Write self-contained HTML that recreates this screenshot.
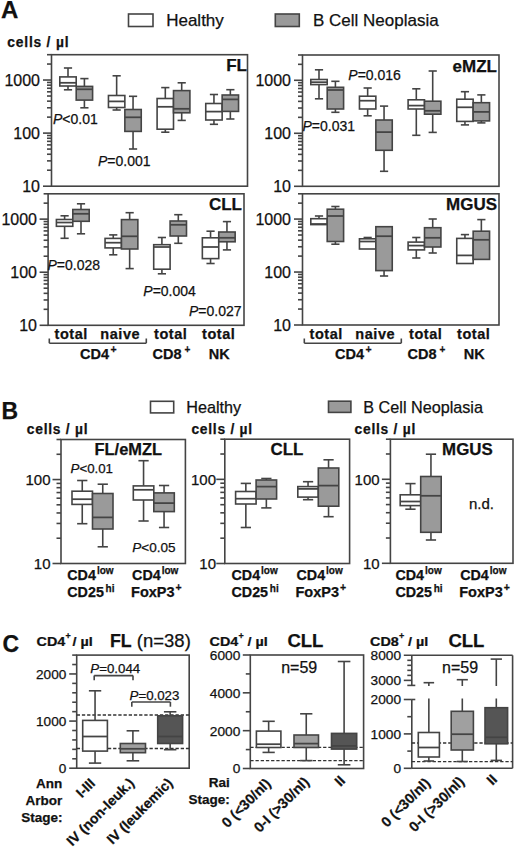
<!DOCTYPE html>
<html><head><meta charset="utf-8"><style>
html,body{margin:0;padding:0;background:#fff;}
svg{display:block;}
text{font-family:"Liberation Sans",sans-serif;fill:#111;stroke:#111;stroke-width:0.25px;}
</style></head><body>
<svg width="520" height="849" viewBox="0 0 520 849">
<rect x="0" y="0" width="520" height="849" fill="#fff"/>
<text x="1.00" y="18.30" font-size="24" font-weight="bold" text-anchor="start">A</text>
<rect x="128.50" y="14.00" width="24.50" height="12.50" fill="#fff" stroke="#444444" stroke-width="1.6"/>
<text x="166.20" y="26.40" font-size="17" font-weight="normal" text-anchor="start">Healthy</text>
<rect x="275.30" y="14.00" width="24.00" height="12.50" fill="#9a9a9a" stroke="#444444" stroke-width="1.6"/>
<text x="313.00" y="26.40" font-size="17" font-weight="normal" text-anchor="start">B Cell Neoplasia</text>
<text x="7.30" y="47.30" font-size="13.8" font-weight="bold" text-anchor="start" letter-spacing="0.8">cells / µl</text>
<rect x="51.50" y="54.70" width="196.00" height="131.50" fill="none" stroke="#444444" stroke-width="1.6"/>
<line x1="43.00" y1="186.20" x2="51.50" y2="186.20" stroke="#444444" stroke-width="1.6"/>
<line x1="47.00" y1="170.22" x2="51.50" y2="170.22" stroke="#444444" stroke-width="1.6"/>
<line x1="47.00" y1="160.87" x2="51.50" y2="160.87" stroke="#444444" stroke-width="1.6"/>
<line x1="47.00" y1="154.24" x2="51.50" y2="154.24" stroke="#444444" stroke-width="1.6"/>
<line x1="47.00" y1="149.09" x2="51.50" y2="149.09" stroke="#444444" stroke-width="1.6"/>
<line x1="47.00" y1="144.89" x2="51.50" y2="144.89" stroke="#444444" stroke-width="1.6"/>
<line x1="47.00" y1="141.34" x2="51.50" y2="141.34" stroke="#444444" stroke-width="1.6"/>
<line x1="47.00" y1="138.26" x2="51.50" y2="138.26" stroke="#444444" stroke-width="1.6"/>
<line x1="47.00" y1="135.54" x2="51.50" y2="135.54" stroke="#444444" stroke-width="1.6"/>
<line x1="43.00" y1="133.11" x2="51.50" y2="133.11" stroke="#444444" stroke-width="1.6"/>
<line x1="47.00" y1="117.13" x2="51.50" y2="117.13" stroke="#444444" stroke-width="1.6"/>
<line x1="47.00" y1="107.79" x2="51.50" y2="107.79" stroke="#444444" stroke-width="1.6"/>
<line x1="47.00" y1="101.15" x2="51.50" y2="101.15" stroke="#444444" stroke-width="1.6"/>
<line x1="47.00" y1="96.01" x2="51.50" y2="96.01" stroke="#444444" stroke-width="1.6"/>
<line x1="47.00" y1="91.81" x2="51.50" y2="91.81" stroke="#444444" stroke-width="1.6"/>
<line x1="47.00" y1="88.25" x2="51.50" y2="88.25" stroke="#444444" stroke-width="1.6"/>
<line x1="47.00" y1="85.17" x2="51.50" y2="85.17" stroke="#444444" stroke-width="1.6"/>
<line x1="47.00" y1="82.46" x2="51.50" y2="82.46" stroke="#444444" stroke-width="1.6"/>
<line x1="43.00" y1="80.03" x2="51.50" y2="80.03" stroke="#444444" stroke-width="1.6"/>
<line x1="47.00" y1="64.05" x2="51.50" y2="64.05" stroke="#444444" stroke-width="1.6"/>
<line x1="47.00" y1="54.70" x2="51.50" y2="54.70" stroke="#444444" stroke-width="1.6"/>
<text x="40.00" y="85.79" font-size="16" font-weight="normal" text-anchor="end">1000</text>
<text x="40.00" y="138.87" font-size="16" font-weight="normal" text-anchor="end">100</text>
<text x="40.00" y="191.96" font-size="16" font-weight="normal" text-anchor="end">10</text>
<line x1="68.00" y1="68.00" x2="68.00" y2="76.90" stroke="#444444" stroke-width="1.6"/>
<line x1="63.90" y1="68.00" x2="72.10" y2="68.00" stroke="#444444" stroke-width="1.6"/>
<line x1="68.00" y1="86.00" x2="68.00" y2="89.80" stroke="#444444" stroke-width="1.6"/>
<line x1="63.90" y1="89.80" x2="72.10" y2="89.80" stroke="#444444" stroke-width="1.6"/>
<rect x="59.80" y="76.90" width="16.40" height="9.10" fill="#fff" stroke="#444444" stroke-width="1.6"/>
<line x1="59.80" y1="82.80" x2="76.20" y2="82.80" stroke="#444444" stroke-width="1.7600000000000002"/>
<line x1="84.40" y1="78.60" x2="84.40" y2="86.40" stroke="#444444" stroke-width="1.6"/>
<line x1="80.30" y1="78.60" x2="88.50" y2="78.60" stroke="#444444" stroke-width="1.6"/>
<line x1="84.40" y1="100.10" x2="84.40" y2="107.80" stroke="#444444" stroke-width="1.6"/>
<line x1="80.30" y1="107.80" x2="88.50" y2="107.80" stroke="#444444" stroke-width="1.6"/>
<rect x="76.20" y="86.40" width="16.40" height="13.70" fill="#9a9a9a" stroke="#444444" stroke-width="1.6"/>
<line x1="76.20" y1="89.30" x2="92.60" y2="89.30" stroke="#444444" stroke-width="1.7600000000000002"/>
<line x1="116.65" y1="75.80" x2="116.65" y2="95.50" stroke="#444444" stroke-width="1.6"/>
<line x1="112.55" y1="75.80" x2="120.75" y2="75.80" stroke="#444444" stroke-width="1.6"/>
<line x1="116.65" y1="107.50" x2="116.65" y2="110.00" stroke="#444444" stroke-width="1.6"/>
<line x1="112.55" y1="110.00" x2="120.75" y2="110.00" stroke="#444444" stroke-width="1.6"/>
<rect x="108.45" y="95.50" width="16.40" height="12.00" fill="#fff" stroke="#444444" stroke-width="1.6"/>
<line x1="108.45" y1="101.40" x2="124.85" y2="101.40" stroke="#444444" stroke-width="1.7600000000000002"/>
<line x1="133.05" y1="96.30" x2="133.05" y2="109.50" stroke="#444444" stroke-width="1.6"/>
<line x1="128.95" y1="96.30" x2="137.15" y2="96.30" stroke="#444444" stroke-width="1.6"/>
<line x1="133.05" y1="131.40" x2="133.05" y2="149.00" stroke="#444444" stroke-width="1.6"/>
<line x1="128.95" y1="149.00" x2="137.15" y2="149.00" stroke="#444444" stroke-width="1.6"/>
<rect x="124.85" y="109.50" width="16.40" height="21.90" fill="#9a9a9a" stroke="#444444" stroke-width="1.6"/>
<line x1="124.85" y1="117.30" x2="141.25" y2="117.30" stroke="#444444" stroke-width="1.7600000000000002"/>
<line x1="165.30" y1="87.60" x2="165.30" y2="98.50" stroke="#444444" stroke-width="1.6"/>
<line x1="161.20" y1="87.60" x2="169.40" y2="87.60" stroke="#444444" stroke-width="1.6"/>
<line x1="165.30" y1="129.20" x2="165.30" y2="132.20" stroke="#444444" stroke-width="1.6"/>
<line x1="161.20" y1="132.20" x2="169.40" y2="132.20" stroke="#444444" stroke-width="1.6"/>
<rect x="157.10" y="98.50" width="16.40" height="30.70" fill="#fff" stroke="#444444" stroke-width="1.6"/>
<line x1="157.10" y1="106.80" x2="173.50" y2="106.80" stroke="#444444" stroke-width="1.7600000000000002"/>
<line x1="181.70" y1="82.80" x2="181.70" y2="90.60" stroke="#444444" stroke-width="1.6"/>
<line x1="177.60" y1="82.80" x2="185.80" y2="82.80" stroke="#444444" stroke-width="1.6"/>
<line x1="181.70" y1="112.80" x2="181.70" y2="120.40" stroke="#444444" stroke-width="1.6"/>
<line x1="177.60" y1="120.40" x2="185.80" y2="120.40" stroke="#444444" stroke-width="1.6"/>
<rect x="173.50" y="90.60" width="16.40" height="22.20" fill="#9a9a9a" stroke="#444444" stroke-width="1.6"/>
<line x1="173.50" y1="108.80" x2="189.90" y2="108.80" stroke="#444444" stroke-width="1.7600000000000002"/>
<line x1="213.95" y1="94.50" x2="213.95" y2="103.50" stroke="#444444" stroke-width="1.6"/>
<line x1="209.85" y1="94.50" x2="218.05" y2="94.50" stroke="#444444" stroke-width="1.6"/>
<line x1="213.95" y1="120.00" x2="213.95" y2="124.30" stroke="#444444" stroke-width="1.6"/>
<line x1="209.85" y1="124.30" x2="218.05" y2="124.30" stroke="#444444" stroke-width="1.6"/>
<rect x="205.75" y="103.50" width="16.40" height="16.50" fill="#fff" stroke="#444444" stroke-width="1.6"/>
<line x1="205.75" y1="111.60" x2="222.15" y2="111.60" stroke="#444444" stroke-width="1.7600000000000002"/>
<line x1="230.35" y1="89.70" x2="230.35" y2="95.00" stroke="#444444" stroke-width="1.6"/>
<line x1="226.25" y1="89.70" x2="234.45" y2="89.70" stroke="#444444" stroke-width="1.6"/>
<line x1="230.35" y1="111.40" x2="230.35" y2="119.00" stroke="#444444" stroke-width="1.6"/>
<line x1="226.25" y1="119.00" x2="234.45" y2="119.00" stroke="#444444" stroke-width="1.6"/>
<rect x="222.15" y="95.00" width="16.40" height="16.40" fill="#9a9a9a" stroke="#444444" stroke-width="1.6"/>
<line x1="222.15" y1="99.40" x2="238.55" y2="99.40" stroke="#444444" stroke-width="1.7600000000000002"/>
<text x="247.00" y="70.80" font-size="17" font-weight="bold" text-anchor="end">FL</text>
<text x="53.00" y="123.60" font-size="14" font-weight="normal" text-anchor="start"><tspan font-style="italic">P</tspan>&lt;0.01</text>
<text x="98.00" y="166.00" font-size="14" font-weight="normal" text-anchor="start"><tspan font-style="italic">P</tspan>=0.001</text>
<rect x="48.10" y="193.80" width="195.90" height="131.50" fill="none" stroke="#444444" stroke-width="1.6"/>
<line x1="39.60" y1="325.30" x2="48.10" y2="325.30" stroke="#444444" stroke-width="1.6"/>
<line x1="43.60" y1="309.32" x2="48.10" y2="309.32" stroke="#444444" stroke-width="1.6"/>
<line x1="43.60" y1="299.97" x2="48.10" y2="299.97" stroke="#444444" stroke-width="1.6"/>
<line x1="43.60" y1="293.34" x2="48.10" y2="293.34" stroke="#444444" stroke-width="1.6"/>
<line x1="43.60" y1="288.19" x2="48.10" y2="288.19" stroke="#444444" stroke-width="1.6"/>
<line x1="43.60" y1="283.99" x2="48.10" y2="283.99" stroke="#444444" stroke-width="1.6"/>
<line x1="43.60" y1="280.44" x2="48.10" y2="280.44" stroke="#444444" stroke-width="1.6"/>
<line x1="43.60" y1="277.36" x2="48.10" y2="277.36" stroke="#444444" stroke-width="1.6"/>
<line x1="43.60" y1="274.64" x2="48.10" y2="274.64" stroke="#444444" stroke-width="1.6"/>
<line x1="39.60" y1="272.21" x2="48.10" y2="272.21" stroke="#444444" stroke-width="1.6"/>
<line x1="43.60" y1="256.23" x2="48.10" y2="256.23" stroke="#444444" stroke-width="1.6"/>
<line x1="43.60" y1="246.89" x2="48.10" y2="246.89" stroke="#444444" stroke-width="1.6"/>
<line x1="43.60" y1="240.25" x2="48.10" y2="240.25" stroke="#444444" stroke-width="1.6"/>
<line x1="43.60" y1="235.11" x2="48.10" y2="235.11" stroke="#444444" stroke-width="1.6"/>
<line x1="43.60" y1="230.91" x2="48.10" y2="230.91" stroke="#444444" stroke-width="1.6"/>
<line x1="43.60" y1="227.35" x2="48.10" y2="227.35" stroke="#444444" stroke-width="1.6"/>
<line x1="43.60" y1="224.27" x2="48.10" y2="224.27" stroke="#444444" stroke-width="1.6"/>
<line x1="43.60" y1="221.56" x2="48.10" y2="221.56" stroke="#444444" stroke-width="1.6"/>
<line x1="39.60" y1="219.13" x2="48.10" y2="219.13" stroke="#444444" stroke-width="1.6"/>
<line x1="43.60" y1="203.15" x2="48.10" y2="203.15" stroke="#444444" stroke-width="1.6"/>
<line x1="43.60" y1="193.80" x2="48.10" y2="193.80" stroke="#444444" stroke-width="1.6"/>
<text x="37.00" y="224.89" font-size="16" font-weight="normal" text-anchor="end">1000</text>
<text x="37.00" y="277.97" font-size="16" font-weight="normal" text-anchor="end">100</text>
<text x="37.00" y="331.06" font-size="16" font-weight="normal" text-anchor="end">10</text>
<line x1="64.60" y1="215.80" x2="64.60" y2="219.50" stroke="#444444" stroke-width="1.6"/>
<line x1="60.50" y1="215.80" x2="68.70" y2="215.80" stroke="#444444" stroke-width="1.6"/>
<line x1="64.60" y1="226.30" x2="64.60" y2="238.30" stroke="#444444" stroke-width="1.6"/>
<line x1="60.50" y1="238.30" x2="68.70" y2="238.30" stroke="#444444" stroke-width="1.6"/>
<rect x="56.40" y="219.50" width="16.40" height="6.80" fill="#fff" stroke="#444444" stroke-width="1.6"/>
<line x1="56.40" y1="222.50" x2="72.80" y2="222.50" stroke="#444444" stroke-width="1.7600000000000002"/>
<line x1="81.00" y1="203.80" x2="81.00" y2="209.50" stroke="#444444" stroke-width="1.6"/>
<line x1="76.90" y1="203.80" x2="85.10" y2="203.80" stroke="#444444" stroke-width="1.6"/>
<line x1="81.00" y1="221.30" x2="81.00" y2="233.80" stroke="#444444" stroke-width="1.6"/>
<line x1="76.90" y1="233.80" x2="85.10" y2="233.80" stroke="#444444" stroke-width="1.6"/>
<rect x="72.80" y="209.50" width="16.40" height="11.80" fill="#9a9a9a" stroke="#444444" stroke-width="1.6"/>
<line x1="72.80" y1="213.80" x2="89.20" y2="213.80" stroke="#444444" stroke-width="1.7600000000000002"/>
<line x1="113.25" y1="234.90" x2="113.25" y2="238.40" stroke="#444444" stroke-width="1.6"/>
<line x1="109.15" y1="234.90" x2="117.35" y2="234.90" stroke="#444444" stroke-width="1.6"/>
<line x1="113.25" y1="247.90" x2="113.25" y2="254.80" stroke="#444444" stroke-width="1.6"/>
<line x1="109.15" y1="254.80" x2="117.35" y2="254.80" stroke="#444444" stroke-width="1.6"/>
<rect x="105.05" y="238.40" width="16.40" height="9.50" fill="#fff" stroke="#444444" stroke-width="1.6"/>
<line x1="105.05" y1="242.70" x2="121.45" y2="242.70" stroke="#444444" stroke-width="1.7600000000000002"/>
<line x1="129.65" y1="212.70" x2="129.65" y2="219.60" stroke="#444444" stroke-width="1.6"/>
<line x1="125.55" y1="212.70" x2="133.75" y2="212.70" stroke="#444444" stroke-width="1.6"/>
<line x1="129.65" y1="249.00" x2="129.65" y2="268.60" stroke="#444444" stroke-width="1.6"/>
<line x1="125.55" y1="268.60" x2="133.75" y2="268.60" stroke="#444444" stroke-width="1.6"/>
<rect x="121.45" y="219.60" width="16.40" height="29.40" fill="#9a9a9a" stroke="#444444" stroke-width="1.6"/>
<line x1="121.45" y1="236.30" x2="137.85" y2="236.30" stroke="#444444" stroke-width="1.7600000000000002"/>
<line x1="161.90" y1="237.50" x2="161.90" y2="244.70" stroke="#444444" stroke-width="1.6"/>
<line x1="157.80" y1="237.50" x2="166.00" y2="237.50" stroke="#444444" stroke-width="1.6"/>
<line x1="161.90" y1="269.20" x2="161.90" y2="273.80" stroke="#444444" stroke-width="1.6"/>
<line x1="157.80" y1="273.80" x2="166.00" y2="273.80" stroke="#444444" stroke-width="1.6"/>
<rect x="153.70" y="244.70" width="16.40" height="24.50" fill="#fff" stroke="#444444" stroke-width="1.6"/>
<line x1="153.70" y1="247.00" x2="170.10" y2="247.00" stroke="#444444" stroke-width="1.7600000000000002"/>
<line x1="178.30" y1="214.70" x2="178.30" y2="221.00" stroke="#444444" stroke-width="1.6"/>
<line x1="174.20" y1="214.70" x2="182.40" y2="214.70" stroke="#444444" stroke-width="1.6"/>
<line x1="178.30" y1="236.00" x2="178.30" y2="243.30" stroke="#444444" stroke-width="1.6"/>
<line x1="174.20" y1="243.30" x2="182.40" y2="243.30" stroke="#444444" stroke-width="1.6"/>
<rect x="170.10" y="221.00" width="16.40" height="15.00" fill="#9a9a9a" stroke="#444444" stroke-width="1.6"/>
<line x1="170.10" y1="224.80" x2="186.50" y2="224.80" stroke="#444444" stroke-width="1.7600000000000002"/>
<line x1="210.55" y1="231.20" x2="210.55" y2="237.80" stroke="#444444" stroke-width="1.6"/>
<line x1="206.45" y1="231.20" x2="214.65" y2="231.20" stroke="#444444" stroke-width="1.6"/>
<line x1="210.55" y1="258.60" x2="210.55" y2="263.50" stroke="#444444" stroke-width="1.6"/>
<line x1="206.45" y1="263.50" x2="214.65" y2="263.50" stroke="#444444" stroke-width="1.6"/>
<rect x="202.35" y="237.80" width="16.40" height="20.80" fill="#fff" stroke="#444444" stroke-width="1.6"/>
<line x1="202.35" y1="247.00" x2="218.75" y2="247.00" stroke="#444444" stroke-width="1.7600000000000002"/>
<line x1="226.95" y1="221.60" x2="226.95" y2="232.00" stroke="#444444" stroke-width="1.6"/>
<line x1="222.85" y1="221.60" x2="231.05" y2="221.60" stroke="#444444" stroke-width="1.6"/>
<line x1="226.95" y1="241.80" x2="226.95" y2="249.90" stroke="#444444" stroke-width="1.6"/>
<line x1="222.85" y1="249.90" x2="231.05" y2="249.90" stroke="#444444" stroke-width="1.6"/>
<rect x="218.75" y="232.00" width="16.40" height="9.80" fill="#9a9a9a" stroke="#444444" stroke-width="1.6"/>
<line x1="218.75" y1="237.80" x2="235.15" y2="237.80" stroke="#444444" stroke-width="1.7600000000000002"/>
<text x="242.00" y="210.40" font-size="17" font-weight="bold" text-anchor="end">CLL</text>
<text x="47.50" y="270.00" font-size="14" font-weight="normal" text-anchor="start"><tspan font-style="italic">P</tspan>=0.028</text>
<text x="143.30" y="295.70" font-size="14" font-weight="normal" text-anchor="start"><tspan font-style="italic">P</tspan>=0.004</text>
<text x="189.00" y="315.50" font-size="14" font-weight="normal" text-anchor="start"><tspan font-style="italic">P</tspan>=0.027</text>
<rect x="302.50" y="55.00" width="196.50" height="131.30" fill="none" stroke="#444444" stroke-width="1.6"/>
<line x1="294.00" y1="186.30" x2="302.50" y2="186.30" stroke="#444444" stroke-width="1.6"/>
<line x1="298.00" y1="170.34" x2="302.50" y2="170.34" stroke="#444444" stroke-width="1.6"/>
<line x1="298.00" y1="161.01" x2="302.50" y2="161.01" stroke="#444444" stroke-width="1.6"/>
<line x1="298.00" y1="154.39" x2="302.50" y2="154.39" stroke="#444444" stroke-width="1.6"/>
<line x1="298.00" y1="149.25" x2="302.50" y2="149.25" stroke="#444444" stroke-width="1.6"/>
<line x1="298.00" y1="145.05" x2="302.50" y2="145.05" stroke="#444444" stroke-width="1.6"/>
<line x1="298.00" y1="141.51" x2="302.50" y2="141.51" stroke="#444444" stroke-width="1.6"/>
<line x1="298.00" y1="138.43" x2="302.50" y2="138.43" stroke="#444444" stroke-width="1.6"/>
<line x1="298.00" y1="135.72" x2="302.50" y2="135.72" stroke="#444444" stroke-width="1.6"/>
<line x1="294.00" y1="133.29" x2="302.50" y2="133.29" stroke="#444444" stroke-width="1.6"/>
<line x1="298.00" y1="117.34" x2="302.50" y2="117.34" stroke="#444444" stroke-width="1.6"/>
<line x1="298.00" y1="108.01" x2="302.50" y2="108.01" stroke="#444444" stroke-width="1.6"/>
<line x1="298.00" y1="101.38" x2="302.50" y2="101.38" stroke="#444444" stroke-width="1.6"/>
<line x1="298.00" y1="96.25" x2="302.50" y2="96.25" stroke="#444444" stroke-width="1.6"/>
<line x1="298.00" y1="92.05" x2="302.50" y2="92.05" stroke="#444444" stroke-width="1.6"/>
<line x1="298.00" y1="88.50" x2="302.50" y2="88.50" stroke="#444444" stroke-width="1.6"/>
<line x1="298.00" y1="85.43" x2="302.50" y2="85.43" stroke="#444444" stroke-width="1.6"/>
<line x1="298.00" y1="82.72" x2="302.50" y2="82.72" stroke="#444444" stroke-width="1.6"/>
<line x1="294.00" y1="80.29" x2="302.50" y2="80.29" stroke="#444444" stroke-width="1.6"/>
<line x1="298.00" y1="64.33" x2="302.50" y2="64.33" stroke="#444444" stroke-width="1.6"/>
<line x1="298.00" y1="55.00" x2="302.50" y2="55.00" stroke="#444444" stroke-width="1.6"/>
<text x="291.00" y="86.05" font-size="16" font-weight="normal" text-anchor="end">1000</text>
<text x="291.00" y="139.05" font-size="16" font-weight="normal" text-anchor="end">100</text>
<text x="291.00" y="192.06" font-size="16" font-weight="normal" text-anchor="end">10</text>
<line x1="319.00" y1="69.80" x2="319.00" y2="79.50" stroke="#444444" stroke-width="1.6"/>
<line x1="314.90" y1="69.80" x2="323.10" y2="69.80" stroke="#444444" stroke-width="1.6"/>
<line x1="319.00" y1="84.60" x2="319.00" y2="98.80" stroke="#444444" stroke-width="1.6"/>
<line x1="314.90" y1="98.80" x2="323.10" y2="98.80" stroke="#444444" stroke-width="1.6"/>
<rect x="310.80" y="79.50" width="16.40" height="5.10" fill="#fff" stroke="#444444" stroke-width="1.6"/>
<line x1="310.80" y1="82.20" x2="327.20" y2="82.20" stroke="#444444" stroke-width="1.7600000000000002"/>
<line x1="335.40" y1="81.30" x2="335.40" y2="87.30" stroke="#444444" stroke-width="1.6"/>
<line x1="331.30" y1="81.30" x2="339.50" y2="81.30" stroke="#444444" stroke-width="1.6"/>
<line x1="335.40" y1="109.00" x2="335.40" y2="112.30" stroke="#444444" stroke-width="1.6"/>
<line x1="331.30" y1="112.30" x2="339.50" y2="112.30" stroke="#444444" stroke-width="1.6"/>
<rect x="327.20" y="87.30" width="16.40" height="21.70" fill="#9a9a9a" stroke="#444444" stroke-width="1.6"/>
<line x1="327.20" y1="90.00" x2="343.60" y2="90.00" stroke="#444444" stroke-width="1.7600000000000002"/>
<line x1="367.65" y1="88.00" x2="367.65" y2="96.20" stroke="#444444" stroke-width="1.6"/>
<line x1="363.55" y1="88.00" x2="371.75" y2="88.00" stroke="#444444" stroke-width="1.6"/>
<line x1="367.65" y1="109.00" x2="367.65" y2="115.80" stroke="#444444" stroke-width="1.6"/>
<line x1="363.55" y1="115.80" x2="371.75" y2="115.80" stroke="#444444" stroke-width="1.6"/>
<rect x="359.45" y="96.20" width="16.40" height="12.80" fill="#fff" stroke="#444444" stroke-width="1.6"/>
<line x1="359.45" y1="100.70" x2="375.85" y2="100.70" stroke="#444444" stroke-width="1.7600000000000002"/>
<line x1="384.05" y1="106.10" x2="384.05" y2="120.00" stroke="#444444" stroke-width="1.6"/>
<line x1="379.95" y1="106.10" x2="388.15" y2="106.10" stroke="#444444" stroke-width="1.6"/>
<line x1="384.05" y1="150.30" x2="384.05" y2="171.30" stroke="#444444" stroke-width="1.6"/>
<line x1="379.95" y1="171.30" x2="388.15" y2="171.30" stroke="#444444" stroke-width="1.6"/>
<rect x="375.85" y="120.00" width="16.40" height="30.30" fill="#9a9a9a" stroke="#444444" stroke-width="1.6"/>
<line x1="375.85" y1="132.10" x2="392.25" y2="132.10" stroke="#444444" stroke-width="1.7600000000000002"/>
<line x1="416.30" y1="88.80" x2="416.30" y2="99.80" stroke="#444444" stroke-width="1.6"/>
<line x1="412.20" y1="88.80" x2="420.40" y2="88.80" stroke="#444444" stroke-width="1.6"/>
<line x1="416.30" y1="109.00" x2="416.30" y2="135.30" stroke="#444444" stroke-width="1.6"/>
<line x1="412.20" y1="135.30" x2="420.40" y2="135.30" stroke="#444444" stroke-width="1.6"/>
<rect x="408.10" y="99.80" width="16.40" height="9.20" fill="#fff" stroke="#444444" stroke-width="1.6"/>
<line x1="408.10" y1="105.60" x2="424.50" y2="105.60" stroke="#444444" stroke-width="1.7600000000000002"/>
<line x1="432.70" y1="71.00" x2="432.70" y2="101.20" stroke="#444444" stroke-width="1.6"/>
<line x1="428.60" y1="71.00" x2="436.80" y2="71.00" stroke="#444444" stroke-width="1.6"/>
<line x1="432.70" y1="114.20" x2="432.70" y2="132.40" stroke="#444444" stroke-width="1.6"/>
<line x1="428.60" y1="132.40" x2="436.80" y2="132.40" stroke="#444444" stroke-width="1.6"/>
<rect x="424.50" y="101.20" width="16.40" height="13.00" fill="#9a9a9a" stroke="#444444" stroke-width="1.6"/>
<line x1="424.50" y1="110.80" x2="440.90" y2="110.80" stroke="#444444" stroke-width="1.7600000000000002"/>
<line x1="464.95" y1="91.70" x2="464.95" y2="99.20" stroke="#444444" stroke-width="1.6"/>
<line x1="460.85" y1="91.70" x2="469.05" y2="91.70" stroke="#444444" stroke-width="1.6"/>
<line x1="464.95" y1="121.40" x2="464.95" y2="124.90" stroke="#444444" stroke-width="1.6"/>
<line x1="460.85" y1="124.90" x2="469.05" y2="124.90" stroke="#444444" stroke-width="1.6"/>
<rect x="456.75" y="99.20" width="16.40" height="22.20" fill="#fff" stroke="#444444" stroke-width="1.6"/>
<line x1="456.75" y1="107.30" x2="473.15" y2="107.30" stroke="#444444" stroke-width="1.7600000000000002"/>
<line x1="481.35" y1="94.90" x2="481.35" y2="102.70" stroke="#444444" stroke-width="1.6"/>
<line x1="477.25" y1="94.90" x2="485.45" y2="94.90" stroke="#444444" stroke-width="1.6"/>
<line x1="481.35" y1="120.90" x2="481.35" y2="122.90" stroke="#444444" stroke-width="1.6"/>
<line x1="477.25" y1="122.90" x2="485.45" y2="122.90" stroke="#444444" stroke-width="1.6"/>
<rect x="473.15" y="102.70" width="16.40" height="18.20" fill="#9a9a9a" stroke="#444444" stroke-width="1.6"/>
<line x1="473.15" y1="111.90" x2="489.55" y2="111.90" stroke="#444444" stroke-width="1.7600000000000002"/>
<text x="497.00" y="71.50" font-size="17" font-weight="bold" text-anchor="end">eMZL</text>
<text x="302.50" y="131.20" font-size="14" font-weight="normal" text-anchor="start"><tspan font-style="italic">P</tspan>=0.031</text>
<text x="348.30" y="80.20" font-size="14" font-weight="normal" text-anchor="start"><tspan font-style="italic">P</tspan>=0.016</text>
<rect x="302.50" y="193.80" width="196.50" height="131.20" fill="none" stroke="#444444" stroke-width="1.6"/>
<line x1="294.00" y1="325.00" x2="302.50" y2="325.00" stroke="#444444" stroke-width="1.6"/>
<line x1="298.00" y1="309.06" x2="302.50" y2="309.06" stroke="#444444" stroke-width="1.6"/>
<line x1="298.00" y1="299.73" x2="302.50" y2="299.73" stroke="#444444" stroke-width="1.6"/>
<line x1="298.00" y1="293.11" x2="302.50" y2="293.11" stroke="#444444" stroke-width="1.6"/>
<line x1="298.00" y1="287.98" x2="302.50" y2="287.98" stroke="#444444" stroke-width="1.6"/>
<line x1="298.00" y1="283.79" x2="302.50" y2="283.79" stroke="#444444" stroke-width="1.6"/>
<line x1="298.00" y1="280.24" x2="302.50" y2="280.24" stroke="#444444" stroke-width="1.6"/>
<line x1="298.00" y1="277.17" x2="302.50" y2="277.17" stroke="#444444" stroke-width="1.6"/>
<line x1="298.00" y1="274.46" x2="302.50" y2="274.46" stroke="#444444" stroke-width="1.6"/>
<line x1="294.00" y1="272.04" x2="302.50" y2="272.04" stroke="#444444" stroke-width="1.6"/>
<line x1="298.00" y1="256.09" x2="302.50" y2="256.09" stroke="#444444" stroke-width="1.6"/>
<line x1="298.00" y1="246.76" x2="302.50" y2="246.76" stroke="#444444" stroke-width="1.6"/>
<line x1="298.00" y1="240.15" x2="302.50" y2="240.15" stroke="#444444" stroke-width="1.6"/>
<line x1="298.00" y1="235.01" x2="302.50" y2="235.01" stroke="#444444" stroke-width="1.6"/>
<line x1="298.00" y1="230.82" x2="302.50" y2="230.82" stroke="#444444" stroke-width="1.6"/>
<line x1="298.00" y1="227.27" x2="302.50" y2="227.27" stroke="#444444" stroke-width="1.6"/>
<line x1="298.00" y1="224.20" x2="302.50" y2="224.20" stroke="#444444" stroke-width="1.6"/>
<line x1="298.00" y1="221.49" x2="302.50" y2="221.49" stroke="#444444" stroke-width="1.6"/>
<line x1="294.00" y1="219.07" x2="302.50" y2="219.07" stroke="#444444" stroke-width="1.6"/>
<line x1="298.00" y1="203.13" x2="302.50" y2="203.13" stroke="#444444" stroke-width="1.6"/>
<line x1="298.00" y1="193.80" x2="302.50" y2="193.80" stroke="#444444" stroke-width="1.6"/>
<text x="291.00" y="224.83" font-size="16" font-weight="normal" text-anchor="end">1000</text>
<text x="291.00" y="277.80" font-size="16" font-weight="normal" text-anchor="end">100</text>
<text x="291.00" y="330.76" font-size="16" font-weight="normal" text-anchor="end">10</text>
<line x1="319.00" y1="216.00" x2="319.00" y2="218.70" stroke="#444444" stroke-width="1.6"/>
<line x1="314.90" y1="216.00" x2="323.10" y2="216.00" stroke="#444444" stroke-width="1.6"/>
<rect x="310.80" y="218.70" width="16.40" height="5.90" fill="#fff" stroke="#444444" stroke-width="1.6"/>
<line x1="310.80" y1="224.00" x2="327.20" y2="224.00" stroke="#444444" stroke-width="1.7600000000000002"/>
<line x1="335.40" y1="206.50" x2="335.40" y2="209.20" stroke="#444444" stroke-width="1.6"/>
<line x1="331.30" y1="206.50" x2="339.50" y2="206.50" stroke="#444444" stroke-width="1.6"/>
<line x1="335.40" y1="241.50" x2="335.40" y2="244.20" stroke="#444444" stroke-width="1.6"/>
<line x1="331.30" y1="244.20" x2="339.50" y2="244.20" stroke="#444444" stroke-width="1.6"/>
<rect x="327.20" y="209.20" width="16.40" height="32.30" fill="#9a9a9a" stroke="#444444" stroke-width="1.6"/>
<line x1="327.20" y1="216.00" x2="343.60" y2="216.00" stroke="#444444" stroke-width="1.7600000000000002"/>
<line x1="367.65" y1="237.50" x2="367.65" y2="238.80" stroke="#444444" stroke-width="1.6"/>
<line x1="363.55" y1="237.50" x2="371.75" y2="237.50" stroke="#444444" stroke-width="1.6"/>
<rect x="359.45" y="238.80" width="16.40" height="10.20" fill="#fff" stroke="#444444" stroke-width="1.6"/>
<line x1="359.45" y1="241.50" x2="375.85" y2="241.50" stroke="#444444" stroke-width="1.7600000000000002"/>
<line x1="384.05" y1="270.60" x2="384.05" y2="276.00" stroke="#444444" stroke-width="1.6"/>
<line x1="379.95" y1="276.00" x2="388.15" y2="276.00" stroke="#444444" stroke-width="1.6"/>
<rect x="375.85" y="226.70" width="16.40" height="43.90" fill="#9a9a9a" stroke="#444444" stroke-width="1.6"/>
<line x1="375.85" y1="236.20" x2="392.25" y2="236.20" stroke="#444444" stroke-width="1.7600000000000002"/>
<line x1="416.30" y1="237.50" x2="416.30" y2="242.10" stroke="#444444" stroke-width="1.6"/>
<line x1="412.20" y1="237.50" x2="420.40" y2="237.50" stroke="#444444" stroke-width="1.6"/>
<line x1="416.30" y1="249.90" x2="416.30" y2="258.00" stroke="#444444" stroke-width="1.6"/>
<line x1="412.20" y1="258.00" x2="420.40" y2="258.00" stroke="#444444" stroke-width="1.6"/>
<rect x="408.10" y="242.10" width="16.40" height="7.80" fill="#fff" stroke="#444444" stroke-width="1.6"/>
<line x1="408.10" y1="245.60" x2="424.50" y2="245.60" stroke="#444444" stroke-width="1.7600000000000002"/>
<line x1="432.70" y1="219.00" x2="432.70" y2="227.70" stroke="#444444" stroke-width="1.6"/>
<line x1="428.60" y1="219.00" x2="436.80" y2="219.00" stroke="#444444" stroke-width="1.6"/>
<line x1="432.70" y1="247.00" x2="432.70" y2="253.00" stroke="#444444" stroke-width="1.6"/>
<line x1="428.60" y1="253.00" x2="436.80" y2="253.00" stroke="#444444" stroke-width="1.6"/>
<rect x="424.50" y="227.70" width="16.40" height="19.30" fill="#9a9a9a" stroke="#444444" stroke-width="1.6"/>
<line x1="424.50" y1="237.80" x2="440.90" y2="237.80" stroke="#444444" stroke-width="1.7600000000000002"/>
<line x1="464.95" y1="234.60" x2="464.95" y2="238.40" stroke="#444444" stroke-width="1.6"/>
<line x1="460.85" y1="234.60" x2="469.05" y2="234.60" stroke="#444444" stroke-width="1.6"/>
<rect x="456.75" y="238.40" width="16.40" height="25.10" fill="#fff" stroke="#444444" stroke-width="1.6"/>
<line x1="456.75" y1="255.40" x2="473.15" y2="255.40" stroke="#444444" stroke-width="1.7600000000000002"/>
<line x1="481.35" y1="219.60" x2="481.35" y2="231.20" stroke="#444444" stroke-width="1.6"/>
<line x1="477.25" y1="219.60" x2="485.45" y2="219.60" stroke="#444444" stroke-width="1.6"/>
<rect x="473.15" y="231.20" width="16.40" height="28.20" fill="#9a9a9a" stroke="#444444" stroke-width="1.6"/>
<line x1="473.15" y1="239.80" x2="489.55" y2="239.80" stroke="#444444" stroke-width="1.7600000000000002"/>
<text x="497.00" y="210.40" font-size="17" font-weight="bold" text-anchor="end">MGUS</text>
<text x="54.50" y="339.20" font-size="14.5" font-weight="bold" text-anchor="start" letter-spacing="0.55">total</text>
<text x="100.30" y="339.20" font-size="14.5" font-weight="bold" text-anchor="start" letter-spacing="0.55">naive</text>
<text x="154.00" y="339.20" font-size="14.5" font-weight="bold" text-anchor="start" letter-spacing="0.55">total</text>
<text x="202.00" y="339.20" font-size="14.5" font-weight="bold" text-anchor="start" letter-spacing="0.55">total</text>
<text x="80.00" y="358.80" font-size="14.5" font-weight="bold" text-anchor="start">CD4</text>
<text x="110.50" y="352.50" font-size="10.5" font-weight="bold" text-anchor="start">+</text>
<text x="152.50" y="358.80" font-size="14.5" font-weight="bold" text-anchor="start">CD8</text>
<text x="184.50" y="352.50" font-size="10" font-weight="bold" text-anchor="start">+</text>
<text x="208.80" y="358.80" font-size="14.5" font-weight="bold" text-anchor="start">NK</text>
<line x1="49.30" y1="338.50" x2="49.30" y2="343.20" stroke="#444444" stroke-width="1.6"/>
<line x1="49.30" y1="343.20" x2="146.30" y2="343.20" stroke="#444444" stroke-width="1.6"/>
<line x1="146.30" y1="338.50" x2="146.30" y2="343.20" stroke="#444444" stroke-width="1.6"/>
<text x="309.50" y="339.20" font-size="14.5" font-weight="bold" text-anchor="start" letter-spacing="0.55">total</text>
<text x="355.30" y="339.20" font-size="14.5" font-weight="bold" text-anchor="start" letter-spacing="0.55">naive</text>
<text x="409.00" y="339.20" font-size="14.5" font-weight="bold" text-anchor="start" letter-spacing="0.55">total</text>
<text x="457.00" y="339.20" font-size="14.5" font-weight="bold" text-anchor="start" letter-spacing="0.55">total</text>
<text x="335.00" y="358.80" font-size="14.5" font-weight="bold" text-anchor="start">CD4</text>
<text x="365.50" y="352.50" font-size="10.5" font-weight="bold" text-anchor="start">+</text>
<text x="407.50" y="358.80" font-size="14.5" font-weight="bold" text-anchor="start">CD8</text>
<text x="439.50" y="352.50" font-size="10" font-weight="bold" text-anchor="start">+</text>
<text x="463.80" y="358.80" font-size="14.5" font-weight="bold" text-anchor="start">NK</text>
<line x1="304.30" y1="338.50" x2="304.30" y2="343.20" stroke="#444444" stroke-width="1.6"/>
<line x1="304.30" y1="343.20" x2="401.30" y2="343.20" stroke="#444444" stroke-width="1.6"/>
<line x1="401.30" y1="338.50" x2="401.30" y2="343.20" stroke="#444444" stroke-width="1.6"/>
<text x="1.50" y="419.30" font-size="23" font-weight="bold" text-anchor="start">B</text>
<rect x="150.50" y="401.30" width="23.20" height="11.60" fill="#fff" stroke="#444444" stroke-width="1.6"/>
<text x="186.30" y="412.90" font-size="16.2" font-weight="normal" text-anchor="start">Healthy</text>
<rect x="328.50" y="401.20" width="22.40" height="11.20" fill="#9a9a9a" stroke="#444444" stroke-width="1.6"/>
<text x="363.30" y="412.90" font-size="16.2" font-weight="normal" text-anchor="start">B Cell Neoplasia</text>
<text x="26.80" y="433.60" font-size="13.8" font-weight="bold" text-anchor="start" letter-spacing="0.75">cells / µl</text>
<text x="191.40" y="433.60" font-size="13.8" font-weight="bold" text-anchor="start" letter-spacing="0.75">cells / µl</text>
<text x="354.60" y="433.60" font-size="13.8" font-weight="bold" text-anchor="start" letter-spacing="0.75">cells / µl</text>
<rect x="61.00" y="439.50" width="124.40" height="124.00" fill="none" stroke="#444444" stroke-width="1.6"/>
<line x1="52.50" y1="563.50" x2="61.00" y2="563.50" stroke="#444444" stroke-width="1.6"/>
<line x1="56.50" y1="538.23" x2="61.00" y2="538.23" stroke="#444444" stroke-width="1.6"/>
<line x1="56.50" y1="523.45" x2="61.00" y2="523.45" stroke="#444444" stroke-width="1.6"/>
<line x1="56.50" y1="512.96" x2="61.00" y2="512.96" stroke="#444444" stroke-width="1.6"/>
<line x1="56.50" y1="504.82" x2="61.00" y2="504.82" stroke="#444444" stroke-width="1.6"/>
<line x1="56.50" y1="498.18" x2="61.00" y2="498.18" stroke="#444444" stroke-width="1.6"/>
<line x1="56.50" y1="492.56" x2="61.00" y2="492.56" stroke="#444444" stroke-width="1.6"/>
<line x1="56.50" y1="487.69" x2="61.00" y2="487.69" stroke="#444444" stroke-width="1.6"/>
<line x1="56.50" y1="483.39" x2="61.00" y2="483.39" stroke="#444444" stroke-width="1.6"/>
<line x1="52.50" y1="479.55" x2="61.00" y2="479.55" stroke="#444444" stroke-width="1.6"/>
<line x1="56.50" y1="454.28" x2="61.00" y2="454.28" stroke="#444444" stroke-width="1.6"/>
<line x1="56.50" y1="439.50" x2="61.00" y2="439.50" stroke="#444444" stroke-width="1.6"/>
<text x="50.50" y="484.95" font-size="15" font-weight="normal" text-anchor="end">100</text>
<text x="50.50" y="568.90" font-size="15" font-weight="normal" text-anchor="end">10</text>
<line x1="82.25" y1="480.50" x2="82.25" y2="491.20" stroke="#444444" stroke-width="1.6"/>
<line x1="77.12" y1="480.50" x2="87.38" y2="480.50" stroke="#444444" stroke-width="1.6"/>
<line x1="82.25" y1="504.40" x2="82.25" y2="523.70" stroke="#444444" stroke-width="1.6"/>
<line x1="77.12" y1="523.70" x2="87.38" y2="523.70" stroke="#444444" stroke-width="1.6"/>
<rect x="72.00" y="491.20" width="20.50" height="13.20" fill="#fff" stroke="#444444" stroke-width="1.6"/>
<line x1="72.00" y1="499.20" x2="92.50" y2="499.20" stroke="#444444" stroke-width="1.7600000000000002"/>
<line x1="102.75" y1="484.20" x2="102.75" y2="493.50" stroke="#444444" stroke-width="1.6"/>
<line x1="97.62" y1="484.20" x2="107.88" y2="484.20" stroke="#444444" stroke-width="1.6"/>
<line x1="102.75" y1="529.00" x2="102.75" y2="546.80" stroke="#444444" stroke-width="1.6"/>
<line x1="97.62" y1="546.80" x2="107.88" y2="546.80" stroke="#444444" stroke-width="1.6"/>
<rect x="92.50" y="493.50" width="20.50" height="35.50" fill="#9a9a9a" stroke="#444444" stroke-width="1.6"/>
<line x1="92.50" y1="517.40" x2="113.00" y2="517.40" stroke="#444444" stroke-width="1.7600000000000002"/>
<line x1="143.55" y1="460.70" x2="143.55" y2="485.90" stroke="#444444" stroke-width="1.6"/>
<line x1="138.43" y1="460.70" x2="148.68" y2="460.70" stroke="#444444" stroke-width="1.6"/>
<line x1="143.55" y1="500.00" x2="143.55" y2="521.00" stroke="#444444" stroke-width="1.6"/>
<line x1="138.43" y1="521.00" x2="148.68" y2="521.00" stroke="#444444" stroke-width="1.6"/>
<rect x="133.30" y="485.90" width="20.50" height="14.10" fill="#fff" stroke="#444444" stroke-width="1.6"/>
<line x1="133.30" y1="489.80" x2="153.80" y2="489.80" stroke="#444444" stroke-width="1.7600000000000002"/>
<line x1="164.05" y1="485.50" x2="164.05" y2="492.90" stroke="#444444" stroke-width="1.6"/>
<line x1="158.93" y1="485.50" x2="169.18" y2="485.50" stroke="#444444" stroke-width="1.6"/>
<line x1="164.05" y1="511.60" x2="164.05" y2="527.50" stroke="#444444" stroke-width="1.6"/>
<line x1="158.93" y1="527.50" x2="169.18" y2="527.50" stroke="#444444" stroke-width="1.6"/>
<rect x="153.80" y="492.90" width="20.50" height="18.70" fill="#9a9a9a" stroke="#444444" stroke-width="1.6"/>
<line x1="153.80" y1="503.10" x2="174.30" y2="503.10" stroke="#444444" stroke-width="1.7600000000000002"/>
<text x="94.60" y="454.90" font-size="16.4" font-weight="bold" text-anchor="start">FL/eMZL</text>
<text x="70.50" y="472.80" font-size="13.3" font-weight="normal" text-anchor="start"><tspan font-style="italic">P</tspan>&lt;0.01</text>
<text x="132.30" y="552.40" font-size="13.5" font-weight="normal" text-anchor="start"><tspan font-style="italic">P</tspan>&lt;0.05</text>
<text x="67.30" y="580.20" font-size="14.3" font-weight="bold" text-anchor="start">CD4</text>
<text x="96.90" y="573.80" font-size="10" font-weight="bold" text-anchor="start">low</text>
<text x="67.30" y="596.60" font-size="14.3" font-weight="bold" text-anchor="start">CD25</text>
<text x="105.60" y="592.20" font-size="10" font-weight="bold" text-anchor="start">hi</text>
<text x="132.10" y="580.20" font-size="14.3" font-weight="bold" text-anchor="start">CD4</text>
<text x="161.70" y="573.80" font-size="10" font-weight="bold" text-anchor="start">low</text>
<text x="131.10" y="596.60" font-size="14.5" font-weight="bold" text-anchor="start">FoxP3</text>
<text x="175.60" y="591.30" font-size="10.5" font-weight="bold" text-anchor="start">+</text>
<rect x="224.80" y="439.20" width="124.80" height="124.30" fill="none" stroke="#444444" stroke-width="1.6"/>
<line x1="216.30" y1="563.50" x2="224.80" y2="563.50" stroke="#444444" stroke-width="1.6"/>
<line x1="220.30" y1="538.17" x2="224.80" y2="538.17" stroke="#444444" stroke-width="1.6"/>
<line x1="220.30" y1="523.35" x2="224.80" y2="523.35" stroke="#444444" stroke-width="1.6"/>
<line x1="220.30" y1="512.84" x2="224.80" y2="512.84" stroke="#444444" stroke-width="1.6"/>
<line x1="220.30" y1="504.68" x2="224.80" y2="504.68" stroke="#444444" stroke-width="1.6"/>
<line x1="220.30" y1="498.02" x2="224.80" y2="498.02" stroke="#444444" stroke-width="1.6"/>
<line x1="220.30" y1="492.38" x2="224.80" y2="492.38" stroke="#444444" stroke-width="1.6"/>
<line x1="220.30" y1="487.50" x2="224.80" y2="487.50" stroke="#444444" stroke-width="1.6"/>
<line x1="220.30" y1="483.20" x2="224.80" y2="483.20" stroke="#444444" stroke-width="1.6"/>
<line x1="216.30" y1="479.35" x2="224.80" y2="479.35" stroke="#444444" stroke-width="1.6"/>
<line x1="220.30" y1="454.02" x2="224.80" y2="454.02" stroke="#444444" stroke-width="1.6"/>
<line x1="220.30" y1="439.20" x2="224.80" y2="439.20" stroke="#444444" stroke-width="1.6"/>
<text x="216.00" y="484.75" font-size="15" font-weight="normal" text-anchor="end">100</text>
<text x="216.00" y="568.90" font-size="15" font-weight="normal" text-anchor="end">10</text>
<line x1="245.85" y1="483.40" x2="245.85" y2="491.50" stroke="#444444" stroke-width="1.6"/>
<line x1="240.73" y1="483.40" x2="250.98" y2="483.40" stroke="#444444" stroke-width="1.6"/>
<line x1="245.85" y1="504.00" x2="245.85" y2="527.50" stroke="#444444" stroke-width="1.6"/>
<line x1="240.73" y1="527.50" x2="250.98" y2="527.50" stroke="#444444" stroke-width="1.6"/>
<rect x="235.60" y="491.50" width="20.50" height="12.50" fill="#fff" stroke="#444444" stroke-width="1.6"/>
<line x1="235.60" y1="498.70" x2="256.10" y2="498.70" stroke="#444444" stroke-width="1.7600000000000002"/>
<line x1="266.35" y1="478.50" x2="266.35" y2="480.00" stroke="#444444" stroke-width="1.6"/>
<line x1="261.23" y1="478.50" x2="271.48" y2="478.50" stroke="#444444" stroke-width="1.6"/>
<line x1="266.35" y1="499.00" x2="266.35" y2="507.90" stroke="#444444" stroke-width="1.6"/>
<line x1="261.23" y1="507.90" x2="271.48" y2="507.90" stroke="#444444" stroke-width="1.6"/>
<rect x="256.10" y="480.00" width="20.50" height="19.00" fill="#9a9a9a" stroke="#444444" stroke-width="1.6"/>
<line x1="256.10" y1="486.60" x2="276.60" y2="486.60" stroke="#444444" stroke-width="1.7600000000000002"/>
<line x1="308.05" y1="481.70" x2="308.05" y2="486.60" stroke="#444444" stroke-width="1.6"/>
<line x1="302.93" y1="481.70" x2="313.18" y2="481.70" stroke="#444444" stroke-width="1.6"/>
<line x1="308.05" y1="497.10" x2="308.05" y2="499.70" stroke="#444444" stroke-width="1.6"/>
<line x1="302.93" y1="499.70" x2="313.18" y2="499.70" stroke="#444444" stroke-width="1.6"/>
<rect x="297.80" y="486.60" width="20.50" height="10.50" fill="#fff" stroke="#444444" stroke-width="1.6"/>
<line x1="297.80" y1="488.90" x2="318.30" y2="488.90" stroke="#444444" stroke-width="1.7600000000000002"/>
<line x1="328.55" y1="459.80" x2="328.55" y2="468.00" stroke="#444444" stroke-width="1.6"/>
<line x1="323.43" y1="459.80" x2="333.68" y2="459.80" stroke="#444444" stroke-width="1.6"/>
<line x1="328.55" y1="506.20" x2="328.55" y2="516.70" stroke="#444444" stroke-width="1.6"/>
<line x1="323.43" y1="516.70" x2="333.68" y2="516.70" stroke="#444444" stroke-width="1.6"/>
<rect x="318.30" y="468.00" width="20.50" height="38.20" fill="#9a9a9a" stroke="#444444" stroke-width="1.6"/>
<line x1="318.30" y1="485.60" x2="338.80" y2="485.60" stroke="#444444" stroke-width="1.7600000000000002"/>
<text transform="translate(270.50,454.50) scale(1.04,1)" font-size="16.3" font-weight="bold" text-anchor="start">CLL</text>
<text x="231.50" y="580.20" font-size="14.3" font-weight="bold" text-anchor="start">CD4</text>
<text x="261.10" y="573.80" font-size="10" font-weight="bold" text-anchor="start">low</text>
<text x="231.50" y="596.60" font-size="14.3" font-weight="bold" text-anchor="start">CD25</text>
<text x="269.80" y="592.20" font-size="10" font-weight="bold" text-anchor="start">hi</text>
<text x="296.50" y="580.20" font-size="14.3" font-weight="bold" text-anchor="start">CD4</text>
<text x="326.10" y="573.80" font-size="10" font-weight="bold" text-anchor="start">low</text>
<text x="295.50" y="596.60" font-size="14.5" font-weight="bold" text-anchor="start">FoxP3</text>
<text x="340.00" y="591.30" font-size="10.5" font-weight="bold" text-anchor="start">+</text>
<rect x="390.40" y="439.20" width="122.60" height="124.10" fill="none" stroke="#444444" stroke-width="1.6"/>
<line x1="381.90" y1="563.30" x2="390.40" y2="563.30" stroke="#444444" stroke-width="1.6"/>
<line x1="385.90" y1="538.01" x2="390.40" y2="538.01" stroke="#444444" stroke-width="1.6"/>
<line x1="385.90" y1="523.21" x2="390.40" y2="523.21" stroke="#444444" stroke-width="1.6"/>
<line x1="385.90" y1="512.72" x2="390.40" y2="512.72" stroke="#444444" stroke-width="1.6"/>
<line x1="385.90" y1="504.58" x2="390.40" y2="504.58" stroke="#444444" stroke-width="1.6"/>
<line x1="385.90" y1="497.92" x2="390.40" y2="497.92" stroke="#444444" stroke-width="1.6"/>
<line x1="385.90" y1="492.30" x2="390.40" y2="492.30" stroke="#444444" stroke-width="1.6"/>
<line x1="385.90" y1="487.43" x2="390.40" y2="487.43" stroke="#444444" stroke-width="1.6"/>
<line x1="385.90" y1="483.13" x2="390.40" y2="483.13" stroke="#444444" stroke-width="1.6"/>
<line x1="381.90" y1="479.29" x2="390.40" y2="479.29" stroke="#444444" stroke-width="1.6"/>
<line x1="385.90" y1="453.99" x2="390.40" y2="453.99" stroke="#444444" stroke-width="1.6"/>
<line x1="385.90" y1="439.20" x2="390.40" y2="439.20" stroke="#444444" stroke-width="1.6"/>
<text x="379.60" y="484.69" font-size="15" font-weight="normal" text-anchor="end">100</text>
<text x="379.60" y="568.70" font-size="15" font-weight="normal" text-anchor="end">10</text>
<line x1="410.45" y1="483.60" x2="410.45" y2="494.80" stroke="#444444" stroke-width="1.6"/>
<line x1="405.32" y1="483.60" x2="415.57" y2="483.60" stroke="#444444" stroke-width="1.6"/>
<line x1="410.45" y1="505.60" x2="410.45" y2="509.20" stroke="#444444" stroke-width="1.6"/>
<line x1="405.32" y1="509.20" x2="415.57" y2="509.20" stroke="#444444" stroke-width="1.6"/>
<rect x="400.20" y="494.80" width="20.50" height="10.80" fill="#fff" stroke="#444444" stroke-width="1.6"/>
<line x1="400.20" y1="501.50" x2="420.70" y2="501.50" stroke="#444444" stroke-width="1.7600000000000002"/>
<line x1="430.95" y1="454.20" x2="430.95" y2="476.50" stroke="#444444" stroke-width="1.6"/>
<line x1="425.82" y1="454.20" x2="436.07" y2="454.20" stroke="#444444" stroke-width="1.6"/>
<line x1="430.95" y1="532.30" x2="430.95" y2="540.00" stroke="#444444" stroke-width="1.6"/>
<line x1="425.82" y1="540.00" x2="436.07" y2="540.00" stroke="#444444" stroke-width="1.6"/>
<rect x="420.70" y="476.50" width="20.50" height="55.80" fill="#9a9a9a" stroke="#444444" stroke-width="1.6"/>
<line x1="420.70" y1="495.80" x2="441.20" y2="495.80" stroke="#444444" stroke-width="1.7600000000000002"/>
<text x="442.10" y="454.80" font-size="16.9" font-weight="bold" text-anchor="start">MGUS</text>
<text x="469.00" y="509.30" font-size="15" font-weight="normal" text-anchor="start">n.d.</text>
<text x="395.40" y="580.20" font-size="14.3" font-weight="bold" text-anchor="start">CD4</text>
<text x="425.00" y="573.80" font-size="10" font-weight="bold" text-anchor="start">low</text>
<text x="395.40" y="596.60" font-size="14.3" font-weight="bold" text-anchor="start">CD25</text>
<text x="433.70" y="592.20" font-size="10" font-weight="bold" text-anchor="start">hi</text>
<text x="460.20" y="580.20" font-size="14.3" font-weight="bold" text-anchor="start">CD4</text>
<text x="489.80" y="573.80" font-size="10" font-weight="bold" text-anchor="start">low</text>
<text x="459.20" y="596.60" font-size="14.5" font-weight="bold" text-anchor="start">FoxP3</text>
<text x="503.70" y="591.30" font-size="10.5" font-weight="bold" text-anchor="start">+</text>
<text x="2.50" y="651.50" font-size="23" font-weight="bold" text-anchor="start">C</text>
<text transform="translate(36.50,645.80) scale(1.15,1)" font-size="12.5" font-weight="bold" text-anchor="start">CD4</text>
<text x="65.50" y="638.80" font-size="9" font-weight="bold" text-anchor="start">+</text>
<text transform="translate(72.50,645.80) scale(1.15,1)" font-size="12.5" font-weight="bold" text-anchor="start">/ µl</text>
<text x="110.00" y="646.70" font-size="17.8" font-weight="bold" text-anchor="start">FL</text>
<text x="136.80" y="646.60" font-size="18.5" font-weight="normal" text-anchor="start">(n=38)</text>
<rect x="76.70" y="655.10" width="112.50" height="113.10" fill="none" stroke="#444444" stroke-width="1.6"/>
<line x1="69.20" y1="673.95" x2="76.70" y2="673.95" stroke="#444444" stroke-width="1.6"/>
<text x="66.30" y="678.85" font-size="13.6" font-weight="normal" text-anchor="end">2000</text>
<line x1="69.20" y1="721.08" x2="76.70" y2="721.08" stroke="#444444" stroke-width="1.6"/>
<text x="66.30" y="725.97" font-size="13.6" font-weight="normal" text-anchor="end">1000</text>
<line x1="69.20" y1="768.20" x2="76.70" y2="768.20" stroke="#444444" stroke-width="1.6"/>
<text x="66.30" y="773.10" font-size="13.6" font-weight="normal" text-anchor="end">0</text>
<line x1="72.20" y1="758.78" x2="76.70" y2="758.78" stroke="#444444" stroke-width="1.6"/>
<line x1="72.20" y1="749.35" x2="76.70" y2="749.35" stroke="#444444" stroke-width="1.6"/>
<line x1="72.20" y1="739.93" x2="76.70" y2="739.93" stroke="#444444" stroke-width="1.6"/>
<line x1="72.20" y1="730.50" x2="76.70" y2="730.50" stroke="#444444" stroke-width="1.6"/>
<line x1="72.20" y1="711.65" x2="76.70" y2="711.65" stroke="#444444" stroke-width="1.6"/>
<line x1="72.20" y1="702.23" x2="76.70" y2="702.23" stroke="#444444" stroke-width="1.6"/>
<line x1="72.20" y1="692.80" x2="76.70" y2="692.80" stroke="#444444" stroke-width="1.6"/>
<line x1="72.20" y1="683.38" x2="76.70" y2="683.38" stroke="#444444" stroke-width="1.6"/>
<line x1="72.20" y1="664.53" x2="76.70" y2="664.53" stroke="#444444" stroke-width="1.6"/>
<line x1="72.20" y1="655.10" x2="76.70" y2="655.10" stroke="#444444" stroke-width="1.6"/>
<line x1="76.70" y1="715.00" x2="189.20" y2="715.00" stroke="#333" stroke-width="1.3" stroke-dasharray="3.3,1.9"/>
<line x1="76.70" y1="748.50" x2="189.20" y2="748.50" stroke="#333" stroke-width="1.3" stroke-dasharray="3.3,1.9"/>
<line x1="95.05" y1="690.80" x2="95.05" y2="720.40" stroke="#444444" stroke-width="1.6"/>
<line x1="88.88" y1="690.80" x2="101.23" y2="690.80" stroke="#444444" stroke-width="1.6"/>
<line x1="95.05" y1="751.10" x2="95.05" y2="763.10" stroke="#444444" stroke-width="1.6"/>
<line x1="88.88" y1="763.10" x2="101.23" y2="763.10" stroke="#444444" stroke-width="1.6"/>
<rect x="82.70" y="720.40" width="24.70" height="30.70" fill="#fff" stroke="#444444" stroke-width="1.6"/>
<line x1="82.70" y1="736.50" x2="107.40" y2="736.50" stroke="#444444" stroke-width="1.7600000000000002"/>
<line x1="132.90" y1="730.80" x2="132.90" y2="743.50" stroke="#444444" stroke-width="1.6"/>
<line x1="126.60" y1="730.80" x2="139.20" y2="730.80" stroke="#444444" stroke-width="1.6"/>
<line x1="132.90" y1="752.70" x2="132.90" y2="760.80" stroke="#444444" stroke-width="1.6"/>
<line x1="126.60" y1="760.80" x2="139.20" y2="760.80" stroke="#444444" stroke-width="1.6"/>
<rect x="120.30" y="743.50" width="25.20" height="9.20" fill="#a0a0a0" stroke="#444444" stroke-width="1.6"/>
<line x1="120.30" y1="748.80" x2="145.50" y2="748.80" stroke="#444444" stroke-width="1.7600000000000002"/>
<line x1="170.15" y1="711.80" x2="170.15" y2="715.80" stroke="#444444" stroke-width="1.6"/>
<line x1="163.92" y1="711.80" x2="176.37" y2="711.80" stroke="#444444" stroke-width="1.6"/>
<line x1="170.15" y1="743.50" x2="170.15" y2="749.70" stroke="#444444" stroke-width="1.6"/>
<line x1="163.92" y1="749.70" x2="176.37" y2="749.70" stroke="#444444" stroke-width="1.6"/>
<rect x="157.70" y="715.80" width="24.90" height="27.70" fill="#555555" stroke="#444444" stroke-width="1.6"/>
<line x1="157.70" y1="736.50" x2="182.60" y2="736.50" stroke="#444444" stroke-width="1.7600000000000002"/>
<text x="90.30" y="673.00" font-size="13.3" font-weight="normal" text-anchor="start"><tspan font-style="italic">P</tspan>=0.044</text>
<line x1="94.20" y1="675.60" x2="133.00" y2="675.60" stroke="#444444" stroke-width="1.6"/>
<line x1="94.20" y1="675.60" x2="94.20" y2="680.30" stroke="#444444" stroke-width="1.6"/>
<line x1="133.00" y1="675.60" x2="133.00" y2="680.30" stroke="#444444" stroke-width="1.6"/>
<text x="129.50" y="699.60" font-size="13.3" font-weight="normal" text-anchor="start"><tspan font-style="italic">P</tspan>=0.023</text>
<line x1="131.80" y1="702.00" x2="170.40" y2="702.00" stroke="#444444" stroke-width="1.6"/>
<line x1="131.80" y1="702.00" x2="131.80" y2="706.70" stroke="#444444" stroke-width="1.6"/>
<line x1="170.40" y1="702.00" x2="170.40" y2="706.70" stroke="#444444" stroke-width="1.6"/>
<text x="62.30" y="787.60" font-size="13.5" font-weight="bold" text-anchor="end">Ann</text>
<text x="62.30" y="804.90" font-size="13.5" font-weight="bold" text-anchor="end">Arbor</text>
<text x="62.60" y="821.80" font-size="13.5" font-weight="bold" text-anchor="end">Stage:</text>
<text transform="translate(96.00,784.30) rotate(-45)" font-size="14" font-weight="bold" text-anchor="end">I-III</text>
<text transform="translate(135.00,784.00) rotate(-45)" font-size="14" font-weight="bold" text-anchor="end">IV (non-leuk.)</text>
<text transform="translate(173.60,784.00) rotate(-45)" font-size="14" font-weight="bold" text-anchor="end">IV (leukemic)</text>
<text transform="translate(209.60,645.80) scale(1.15,1)" font-size="12.5" font-weight="bold" text-anchor="start">CD4</text>
<text x="238.60" y="638.80" font-size="9" font-weight="bold" text-anchor="start">+</text>
<text transform="translate(247.60,645.80) scale(1.15,1)" font-size="12.5" font-weight="bold" text-anchor="start">/ µl</text>
<text x="287.40" y="647.00" font-size="18.5" font-weight="bold" text-anchor="start">CLL</text>
<rect x="250.30" y="655.00" width="113.30" height="113.50" fill="none" stroke="#444444" stroke-width="1.6"/>
<line x1="242.80" y1="655.00" x2="250.30" y2="655.00" stroke="#444444" stroke-width="1.6"/>
<text x="240.30" y="659.93" font-size="13.7" font-weight="normal" text-anchor="end">6000</text>
<line x1="242.80" y1="692.83" x2="250.30" y2="692.83" stroke="#444444" stroke-width="1.6"/>
<text x="240.30" y="697.77" font-size="13.7" font-weight="normal" text-anchor="end">4000</text>
<line x1="242.80" y1="730.67" x2="250.30" y2="730.67" stroke="#444444" stroke-width="1.6"/>
<text x="240.30" y="735.60" font-size="13.7" font-weight="normal" text-anchor="end">2000</text>
<line x1="242.80" y1="768.50" x2="250.30" y2="768.50" stroke="#444444" stroke-width="1.6"/>
<text x="240.30" y="773.43" font-size="13.7" font-weight="normal" text-anchor="end">0</text>
<line x1="245.80" y1="749.58" x2="250.30" y2="749.58" stroke="#444444" stroke-width="1.6"/>
<line x1="245.80" y1="711.75" x2="250.30" y2="711.75" stroke="#444444" stroke-width="1.6"/>
<line x1="245.80" y1="673.92" x2="250.30" y2="673.92" stroke="#444444" stroke-width="1.6"/>
<line x1="250.30" y1="747.30" x2="363.60" y2="747.30" stroke="#333" stroke-width="1.3" stroke-dasharray="3.3,1.9"/>
<line x1="250.30" y1="760.60" x2="363.60" y2="760.60" stroke="#333" stroke-width="1.3" stroke-dasharray="3.3,1.9"/>
<line x1="268.65" y1="721.30" x2="268.65" y2="731.10" stroke="#444444" stroke-width="1.6"/>
<line x1="262.52" y1="721.30" x2="274.77" y2="721.30" stroke="#444444" stroke-width="1.6"/>
<line x1="268.65" y1="747.50" x2="268.65" y2="752.40" stroke="#444444" stroke-width="1.6"/>
<line x1="262.52" y1="752.40" x2="274.77" y2="752.40" stroke="#444444" stroke-width="1.6"/>
<rect x="256.40" y="731.10" width="24.50" height="16.40" fill="#fff" stroke="#444444" stroke-width="1.6"/>
<line x1="256.40" y1="744.20" x2="280.90" y2="744.20" stroke="#444444" stroke-width="1.7600000000000002"/>
<line x1="306.25" y1="713.80" x2="306.25" y2="735.00" stroke="#444444" stroke-width="1.6"/>
<line x1="300.12" y1="713.80" x2="312.38" y2="713.80" stroke="#444444" stroke-width="1.6"/>
<line x1="306.25" y1="747.50" x2="306.25" y2="760.60" stroke="#444444" stroke-width="1.6"/>
<line x1="300.12" y1="760.60" x2="312.38" y2="760.60" stroke="#444444" stroke-width="1.6"/>
<rect x="294.00" y="735.00" width="24.50" height="12.50" fill="#a0a0a0" stroke="#444444" stroke-width="1.6"/>
<line x1="294.00" y1="743.60" x2="318.50" y2="743.60" stroke="#444444" stroke-width="1.7600000000000002"/>
<line x1="344.10" y1="661.50" x2="344.10" y2="733.40" stroke="#444444" stroke-width="1.6"/>
<line x1="337.80" y1="661.50" x2="350.40" y2="661.50" stroke="#444444" stroke-width="1.6"/>
<line x1="344.10" y1="749.10" x2="344.10" y2="764.80" stroke="#444444" stroke-width="1.6"/>
<line x1="337.80" y1="764.80" x2="350.40" y2="764.80" stroke="#444444" stroke-width="1.6"/>
<rect x="331.50" y="733.40" width="25.20" height="15.70" fill="#555555" stroke="#444444" stroke-width="1.6"/>
<line x1="331.50" y1="745.90" x2="356.70" y2="745.90" stroke="#444444" stroke-width="1.7600000000000002"/>
<text x="281.20" y="673.30" font-size="16" font-weight="normal" text-anchor="start">n=59</text>
<text x="229.80" y="786.70" font-size="13.5" font-weight="bold" text-anchor="end">Rai</text>
<text x="229.80" y="803.50" font-size="13.5" font-weight="bold" text-anchor="end">Stage:</text>
<text transform="translate(271.50,784.50) rotate(-45)" font-size="14.3" font-weight="bold" text-anchor="end">0 (&lt;30/nl)</text>
<text transform="translate(310.00,783.00) rotate(-45)" font-size="14.3" font-weight="bold" text-anchor="end">0-I (&gt;30/nl)</text>
<text transform="translate(346.00,781.70) rotate(-45)" font-size="14.3" font-weight="bold" text-anchor="end">II</text>
<text transform="translate(370.00,645.90) scale(1.15,1)" font-size="12.5" font-weight="bold" text-anchor="start">CD8</text>
<text x="399.00" y="638.80" font-size="9" font-weight="bold" text-anchor="start">+</text>
<text transform="translate(408.00,645.90) scale(1.15,1)" font-size="12.5" font-weight="bold" text-anchor="start">/ µl</text>
<text x="448.40" y="647.00" font-size="18.5" font-weight="bold" text-anchor="start">CLL</text>
<line x1="403.80" y1="655.30" x2="512.60" y2="655.30" stroke="#444444" stroke-width="1.6"/>
<line x1="512.60" y1="655.30" x2="512.60" y2="768.30" stroke="#444444" stroke-width="1.6"/>
<line x1="411.80" y1="768.30" x2="512.60" y2="768.30" stroke="#444444" stroke-width="1.6"/>
<line x1="411.80" y1="655.30" x2="411.80" y2="685.40" stroke="#444444" stroke-width="1.6"/>
<line x1="411.80" y1="699.50" x2="411.80" y2="768.30" stroke="#444444" stroke-width="1.6"/>
<text x="401.00" y="660.23" font-size="13.7" font-weight="normal" text-anchor="end">8000</text>
<line x1="403.80" y1="680.38" x2="411.80" y2="680.38" stroke="#444444" stroke-width="1.6"/>
<text x="401.00" y="685.32" font-size="13.7" font-weight="normal" text-anchor="end">3000</text>
<line x1="403.80" y1="699.50" x2="411.80" y2="699.50" stroke="#444444" stroke-width="1.6"/>
<text x="401.00" y="704.43" font-size="13.7" font-weight="normal" text-anchor="end">2000</text>
<line x1="403.80" y1="733.90" x2="411.80" y2="733.90" stroke="#444444" stroke-width="1.6"/>
<text x="401.00" y="738.83" font-size="13.7" font-weight="normal" text-anchor="end">1000</text>
<line x1="403.80" y1="768.30" x2="411.80" y2="768.30" stroke="#444444" stroke-width="1.6"/>
<text x="401.00" y="773.23" font-size="13.7" font-weight="normal" text-anchor="end">0</text>
<line x1="407.30" y1="675.37" x2="411.80" y2="675.37" stroke="#444444" stroke-width="1.6"/>
<line x1="407.30" y1="670.35" x2="411.80" y2="670.35" stroke="#444444" stroke-width="1.6"/>
<line x1="407.30" y1="665.33" x2="411.80" y2="665.33" stroke="#444444" stroke-width="1.6"/>
<line x1="407.30" y1="660.32" x2="411.80" y2="660.32" stroke="#444444" stroke-width="1.6"/>
<line x1="407.30" y1="685.40" x2="415.30" y2="685.40" stroke="#444444" stroke-width="1.6"/>
<line x1="411.80" y1="699.50" x2="415.30" y2="699.50" stroke="#444444" stroke-width="1.6"/>
<line x1="407.30" y1="751.10" x2="411.80" y2="751.10" stroke="#444444" stroke-width="1.6"/>
<line x1="407.30" y1="716.70" x2="411.80" y2="716.70" stroke="#444444" stroke-width="1.6"/>
<line x1="411.80" y1="743.00" x2="512.60" y2="743.00" stroke="#333" stroke-width="1.3" stroke-dasharray="3.3,1.9"/>
<line x1="411.80" y1="761.70" x2="512.60" y2="761.70" stroke="#333" stroke-width="1.3" stroke-dasharray="3.3,1.9"/>
<line x1="428.85" y1="682.70" x2="428.85" y2="686.00" stroke="#444444" stroke-width="1.6"/>
<line x1="428.85" y1="698.50" x2="428.85" y2="732.50" stroke="#444444" stroke-width="1.6"/>
<line x1="423.58" y1="682.70" x2="434.12" y2="682.70" stroke="#444444" stroke-width="1.6"/>
<line x1="428.85" y1="757.00" x2="428.85" y2="761.00" stroke="#444444" stroke-width="1.6"/>
<line x1="423.58" y1="761.00" x2="434.12" y2="761.00" stroke="#444444" stroke-width="1.6"/>
<rect x="418.30" y="732.50" width="21.10" height="24.50" fill="#fff" stroke="#444444" stroke-width="1.6"/>
<line x1="418.30" y1="747.50" x2="439.40" y2="747.50" stroke="#444444" stroke-width="1.7600000000000002"/>
<line x1="462.30" y1="679.70" x2="462.30" y2="686.00" stroke="#444444" stroke-width="1.6"/>
<line x1="462.30" y1="698.50" x2="462.30" y2="711.30" stroke="#444444" stroke-width="1.6"/>
<line x1="456.75" y1="679.70" x2="467.85" y2="679.70" stroke="#444444" stroke-width="1.6"/>
<line x1="462.30" y1="750.00" x2="462.30" y2="761.50" stroke="#444444" stroke-width="1.6"/>
<line x1="456.75" y1="761.50" x2="467.85" y2="761.50" stroke="#444444" stroke-width="1.6"/>
<rect x="451.20" y="711.30" width="22.20" height="38.70" fill="#a0a0a0" stroke="#444444" stroke-width="1.6"/>
<line x1="451.20" y1="734.20" x2="473.40" y2="734.20" stroke="#444444" stroke-width="1.7600000000000002"/>
<line x1="496.30" y1="659.10" x2="496.30" y2="686.00" stroke="#444444" stroke-width="1.6"/>
<line x1="496.30" y1="698.50" x2="496.30" y2="707.70" stroke="#444444" stroke-width="1.6"/>
<line x1="490.65" y1="659.10" x2="501.95" y2="659.10" stroke="#444444" stroke-width="1.6"/>
<line x1="496.30" y1="743.80" x2="496.30" y2="760.40" stroke="#444444" stroke-width="1.6"/>
<line x1="490.65" y1="760.40" x2="501.95" y2="760.40" stroke="#444444" stroke-width="1.6"/>
<rect x="485.00" y="707.70" width="22.60" height="36.10" fill="#555555" stroke="#444444" stroke-width="1.6"/>
<line x1="485.00" y1="737.30" x2="507.60" y2="737.30" stroke="#444444" stroke-width="1.7600000000000002"/>
<text x="442.00" y="673.20" font-size="16" font-weight="normal" text-anchor="start">n=59</text>
<text transform="translate(431.00,784.00) rotate(-45)" font-size="14.3" font-weight="bold" text-anchor="end">0 (&lt;30/nl)</text>
<text transform="translate(465.00,782.50) rotate(-45)" font-size="14.3" font-weight="bold" text-anchor="end">0-I (&gt;30/nl)</text>
<text transform="translate(498.00,780.50) rotate(-45)" font-size="14.3" font-weight="bold" text-anchor="end">II</text>
</svg>
</body></html>
